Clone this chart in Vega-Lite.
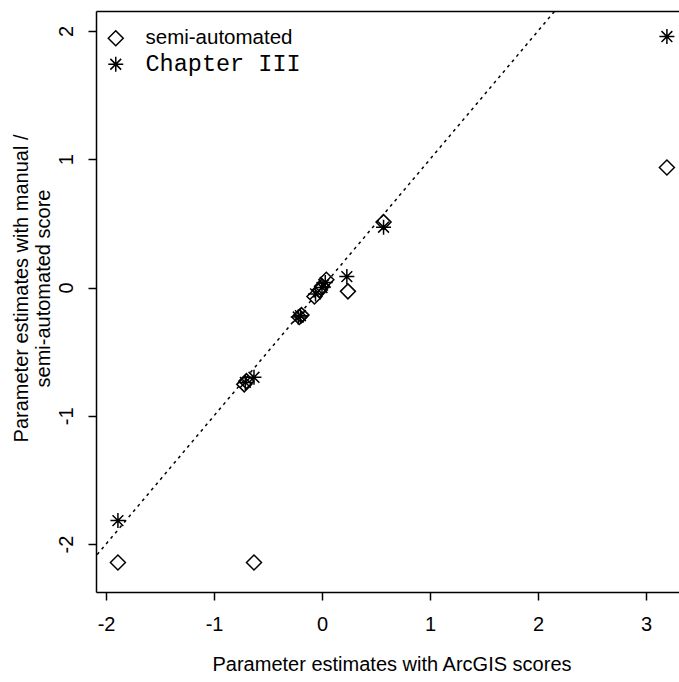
{
  "$schema": "https://vega.github.io/schema/vega-lite/v6.json",
  "autosize": {"type": "none"},
  "width": 583,
  "height": 581,
  "padding": {"left": 96, "top": 11, "right": 0, "bottom": 90},
  "background": "white",
  "config": {
    "view": {"stroke": null},
    "font": "Liberation Sans",
    "axis": {
      "domainColor": "black", "domainWidth": 1.5,
      "tickColor": "black", "tickWidth": 1.5, "tickSize": 8,
      "labelColor": "black", "labelFontSize": 20, "labelFont": "Liberation Sans",
      "titleColor": "black", "titleFontSize": 20, "titleFont": "Liberation Sans", "titleFontWeight": "normal",
      "grid": false
    }
  },
  "datasets": {
    "pts": [
      {"arcgis": -1.89, "manual": -2.144, "method": "semi-automated"},
      {"arcgis": -0.63, "manual": -2.144, "method": "semi-automated"},
      {"arcgis": -0.72, "manual": -0.755, "method": "semi-automated"},
      {"arcgis": -0.70, "manual": -0.73, "method": "semi-automated"},
      {"arcgis": -0.21, "manual": -0.23, "method": "semi-automated"},
      {"arcgis": -0.19, "manual": -0.215, "method": "semi-automated"},
      {"arcgis": -0.07, "manual": -0.07, "method": "semi-automated"},
      {"arcgis": -0.02, "manual": -0.02, "method": "semi-automated"},
      {"arcgis": 0.0, "manual": 0.01, "method": "semi-automated"},
      {"arcgis": 0.04, "manual": 0.06, "method": "semi-automated"},
      {"arcgis": 0.24, "manual": -0.03, "method": "semi-automated"},
      {"arcgis": 0.57, "manual": 0.51, "method": "semi-automated"},
      {"arcgis": 3.194, "manual": 0.936, "method": "semi-automated"},
      {"arcgis": -1.89, "manual": -1.817, "method": "Chapter III"},
      {"arcgis": 3.194, "manual": 1.957, "method": "Chapter III"},
      {"arcgis": 0.57, "manual": 0.47, "method": "Chapter III"},
      {"arcgis": 0.23, "manual": 0.085, "method": "Chapter III"},
      {"arcgis": -0.63, "manual": -0.70, "method": "Chapter III"},
      {"arcgis": -0.71, "manual": -0.74, "method": "Chapter III"},
      {"arcgis": -0.20, "manual": -0.22, "method": "Chapter III"},
      {"arcgis": -0.22, "manual": -0.23, "method": "Chapter III"},
      {"arcgis": -0.06, "manual": -0.05, "method": "Chapter III"},
      {"arcgis": 0.0, "manual": 0.0, "method": "Chapter III"},
      {"arcgis": 0.03, "manual": 0.04, "method": "Chapter III"}
    ],
    "ref": [
      {"arcgis": -2.5, "manual": -2.5},
      {"arcgis": 2.5, "manual": 2.5}
    ]
  },
  "resolve": {"axis": {"x": "independent", "y": "independent"}},
  "layer": [
    {
      "data": {"name": "ref"},
      "mark": {"type": "line", "clip": true, "color": "black", "strokeWidth": 1.5, "strokeDash": [3, 4]},
      "encoding": {
        "x": {"field": "arcgis", "type": "quantitative", "scale": {"domain": [-2.093, 3.306], "nice": false, "zero": false},
          "axis": {"orient": "top", "labels": false, "ticks": false, "title": null, "domain": true}},
        "y": {"field": "manual", "type": "quantitative", "scale": {"domain": [-2.374, 2.156], "nice": false, "zero": false},
          "axis": {"orient": "right", "labels": false, "ticks": false, "title": null, "domain": false}}
      }
    },
    {
      "data": {"name": "pts"},
      "mark": {"type": "point", "filled": false, "color": "black", "strokeWidth": 1.5, "size": 225, "opacity": 1},
      "encoding": {
        "x": {"field": "arcgis", "type": "quantitative",
          "axis": {"orient": "bottom", "values": [-2, -1, 0, 1, 2, 3], "labelExpr": "toString(datum.value)", "labelPadding": 14, "labelBaseline": "top",
            "title": "Parameter estimates with ArcGIS scores", "titleX": 295.5, "titleY": 78, "titleBaseline": "alphabetic", "titleAnchor": "middle", "titleAlign": "center"}},
        "y": {"field": "manual", "type": "quantitative",
          "axis": {"orient": "left", "values": [-2, -1, 0, 1, 2], "labelExpr": "toString(datum.value)", "labelAngle": 270, "labelAlign": "center", "labelBaseline": "alphabetic", "labelPadding": 16,
            "title": ["Parameter estimates with manual /", "semi-automated score"], "titleAngle": 270, "titleX": -69, "titleY": 277, "titleBaseline": "alphabetic", "titleAlign": "center", "titleLineHeight": 22}},
        "shape": {
          "field": "method", "type": "nominal",
          "scale": {"domain": ["semi-automated", "Chapter III"], "range": ["diamond", "M-1,0L1,0M0,-1L0,1M-0.72,-0.72L0.72,0.72M-0.72,0.72L0.72,-0.72"]},
          "legend": {
            "orient": "none", "legendX": 9.5, "legendY": 17, "title": null, "padding": 0,
            "symbolSize": 225, "symbolStrokeWidth": 1.5, "symbolStrokeColor": "black", "symbolFillColor": "transparent",
            "labelOffset": 19.5, "rowPadding": 3, "labelColor": "black",
            "labelFont": {"expr": "datum.label === 'Chapter III' ? 'Liberation Mono' : 'Liberation Sans'"},
            "labelFontSize": {"expr": "datum.label === 'Chapter III' ? 23.5 : 20.5"}
          }
        }
      }
    }
  ]
}
